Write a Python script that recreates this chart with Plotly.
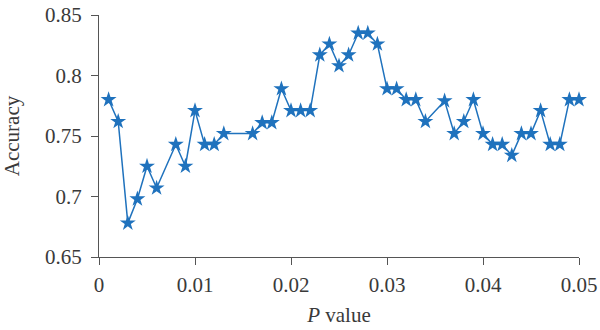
import plotly.graph_objects as go

# Classification accuracy for each P value threshold
p_values = [0.001, 0.002, 0.003, 0.004, 0.005, 0.006, 0.008, 0.009, 0.010,
            0.011, 0.012, 0.013, 0.016, 0.017, 0.018, 0.019, 0.020, 0.021,
            0.022, 0.023, 0.024, 0.025, 0.026, 0.027, 0.028, 0.029, 0.030,
            0.031, 0.032, 0.033, 0.034, 0.036, 0.037, 0.038, 0.039, 0.040,
            0.041, 0.042, 0.043, 0.044, 0.045, 0.046, 0.047, 0.048, 0.049,
            0.050]
accuracy = [0.780, 0.762, 0.678, 0.698, 0.725, 0.707, 0.743, 0.725, 0.771,
            0.743, 0.743, 0.752, 0.752, 0.761, 0.761, 0.789, 0.771, 0.771,
            0.771, 0.817, 0.826, 0.808, 0.817, 0.835, 0.835, 0.826, 0.789,
            0.789, 0.780, 0.780, 0.762, 0.779, 0.752, 0.762, 0.780, 0.752,
            0.743, 0.743, 0.734, 0.752, 0.752, 0.771, 0.743, 0.743, 0.780,
            0.780]

x_ticks = [0, 0.01, 0.02, 0.03, 0.04, 0.05]
x_tick_labels = ["0", "0.01", "0.02", "0.03", "0.04", "0.05"]
y_ticks = [0.65, 0.7, 0.75, 0.8, 0.85]
y_tick_labels = ["0.65", "0.7", "0.75", "0.8", "0.85"]

BLUE = "#1F72BD"
AXIS = "#555555"
TEXT = "#3a3a3a"
FONT = "Liberation Serif"

fig = go.Figure(
    go.Scatter(
        x=p_values,
        y=accuracy,
        mode="lines+markers",
        line=dict(color=BLUE, width=1.5),
        marker=dict(symbol="star", size=12, color=BLUE, line=dict(width=0)),
        cliponaxis=False,
    )
)

axis_common = dict(
    showline=True,
    linecolor=AXIS,
    linewidth=1.3,
    ticks="outside",
    ticklen=7,
    tickwidth=1.3,
    tickcolor=AXIS,
    showgrid=False,
    zeroline=False,
    automargin=False,
    tickfont=dict(family=FONT, size=21, color=TEXT),
)

fig.update_layout(
    width=600,
    height=330,
    margin=dict(l=99, r=21, t=15, b=73),
    paper_bgcolor="white",
    plot_bgcolor="white",
    showlegend=False,
    xaxis=dict(
        range=[0, 0.05],
        tickvals=x_ticks,
        ticktext=x_tick_labels,
        ticklabelstandoff=2,
        title=dict(text="<i>P</i> value", font=dict(family=FONT, size=21, color=TEXT), standoff=10),
        **axis_common,
    ),
    yaxis=dict(
        range=[0.65, 0.85],
        tickvals=y_ticks,
        ticktext=y_tick_labels,
        ticklabelstandoff=5,
        title=dict(text="Accuracy", font=dict(family=FONT, size=21, color=TEXT), standoff=20),
        **axis_common,
    ),
)

fig.write_html("out.html")
